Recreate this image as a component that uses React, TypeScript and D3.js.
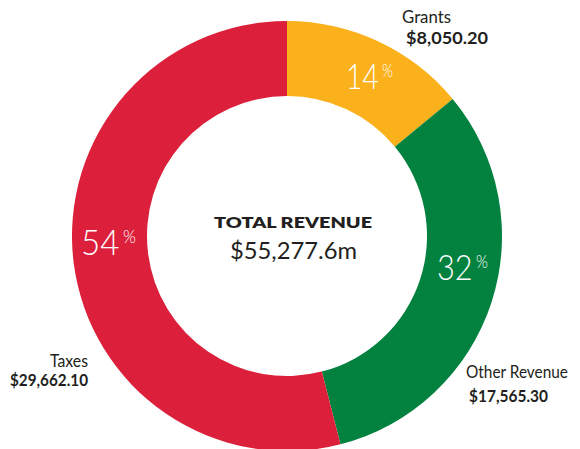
import React from "react";
import * as d3 from "d3";

const categories = ["Grants", "Other Revenue", "Taxes"];
const amounts = ["$8,050.20", "$17,565.30", "$29,662.10"];
const percents = [14, 32, 54];
const colors = ["#FBB11C", "#03823F", "#DC1F3A"];
const totalLabel = "TOTAL REVENUE";
const totalValue = "$55,277.6m";

const W = 580;
const H = 449;
const cx = 287;
const cy = 236;
const outerR = 215;
const innerR = 140;
const font = "Lato, 'Noto Sans', sans-serif";
const ink = "#231f20";

// label placement (relative to chart centre)
const pctPos = [
  { x: 59, y: -147, w: 47 },
  { x: 150, y: 44, w: 51 },
  { x: -206, y: 19, w: 55 },
];
const namePos = [
  { x: 115, y: -213, anchor: "start", nw: 49, ax: 119, ay: -192, aw: 82 },
  { x: 179, y: 142, anchor: "start", nw: 102, ax: 182, ay: 166, aw: 79 },
  { x: -199, y: 131, anchor: "end", nw: 38, ax: -199, ay: 150, aw: 78 },
];

export default function App() {
  const pie = d3
    .pie<number>()
    .sort(null)
    .value((d) => d)
    .startAngle(0)
    .endAngle(2 * Math.PI);
  const arcs = pie(percents);
  const arc = d3.arc<d3.PieArcDatum<number>>().innerRadius(innerR).outerRadius(outerR);

  return (
    <svg
      width={W}
      height={H}
      style={{ position: "absolute", left: 0, top: 0, background: "#fff" }}
      fontFamily={font}
    >
      <g transform={`translate(${cx},${cy})`}>
        {arcs.map((a, i) => (
          <path key={categories[i]} d={arc(a) || ""} fill={colors[i]} />
        ))}
        {arcs.map((a, i) => {
          const p = pctPos[i];
          return (
            <text
              key={"p" + i}
              x={p.x}
              y={p.y}
              fill="#fff"
              fontWeight={300}
              textLength={p.w}
              lengthAdjust="spacingAndGlyphs"
            >
              <tspan fontSize={36}>{String(percents[i])}</tspan>
              <tspan fontSize={18} dx={4} dy={-12}>
                %
              </tspan>
            </text>
          );
        })}
        {categories.map((c, i) => {
          const n = namePos[i];
          return (
            <g key={"n" + i} fill={ink} textAnchor={n.anchor}>
              <text x={n.x} y={n.y} fontSize={16.5} fontWeight={400} textLength={n.nw} lengthAdjust="spacingAndGlyphs">
                {c}
              </text>
              <text x={n.ax} y={n.ay} fontSize={17.5} fontWeight={700} textLength={n.aw} lengthAdjust="spacingAndGlyphs">
                {amounts[i]}
              </text>
            </g>
          );
        })}
        <text
          x={6}
          y={-8}
          textAnchor="middle"
          fontSize={15.5}
          fontWeight={800}
          fill={ink}
          textLength={158}
          lengthAdjust="spacingAndGlyphs"
        >
          {totalLabel}
        </text>
        <text
          x={6.5}
          y={23}
          textAnchor="middle"
          fontSize={24}
          fontWeight={400}
          fill={ink}
          textLength={127}
          lengthAdjust="spacingAndGlyphs"
        >
          {totalValue}
        </text>
      </g>
    </svg>
  );
}
